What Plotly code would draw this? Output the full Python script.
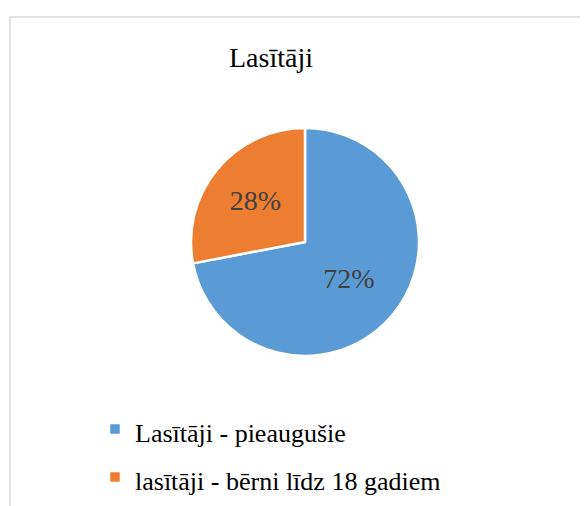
import plotly.graph_objects as go

W, H = 588, 506
OFF = 8  # page body margin offset

labels = ["Lasītāji - pieaugušie", "lasītāji - bērni līdz 18 gadiem"]
values = [72, 28]
colors = ["#5B9BD5", "#ED7D31"]
title_text = "Lasītāji"

SERIF = "Liberation Serif"
LEGEND_TEXT_SIZE = 26
LEGEND_ROW_SIZE = 34.6  # controls row spacing of legend entries

def px(x):
    return (x - OFF) / W

def py(y):
    return 1 - (y - OFF) / H

# pie geometry in screen pixels
cx, cy, r = 305, 242, 114

legend_labels = [f"<span style='font-size:{LEGEND_TEXT_SIZE}px'>{l}</span>" for l in labels]

fig = go.Figure(go.Pie(
    labels=legend_labels,
    values=values,
    sort=False,
    direction="clockwise",
    rotation=0,
    marker=dict(colors=colors, line=dict(color="white", width=2.5)),
    texttemplate="%{percent:.0%}",
    textposition="inside",
    insidetextorientation="horizontal",
    textfont=dict(family=SERIF, size=28, color="#404040"),
    domain=dict(x=[px(cx - r), px(cx + r)], y=[py(cy + r), py(cy - r)]),
    hoverinfo="label+percent",
))

fig.update_layout(
    width=W, height=H,
    margin=dict(l=0, r=0, t=0, b=0),
    paper_bgcolor="white",
    plot_bgcolor="white",
    font=dict(family=SERIF),
    showlegend=True,
    legend=dict(
        x=px(95), xanchor="left",
        y=py(453), yanchor="middle",
        font=dict(family=SERIF, size=LEGEND_ROW_SIZE, color="#000000"),
        bgcolor="rgba(0,0,0,0)",
        traceorder="normal",
    ),
    annotations=[dict(
        text=title_text, xref="paper", yref="paper",
        x=px(271), y=py(57), xanchor="center", yanchor="middle",
        showarrow=False, font=dict(family=SERIF, size=28, color="#000000"),
    )],
    shapes=[dict(
        type="rect", xref="paper", yref="paper",
        x0=px(10), x1=1.2, y0=-0.2, y1=py(17),
        line=dict(color="#D9D9D9", width=1.5), fillcolor="rgba(0,0,0,0)",
        layer="below",
    )],
)

fig.write_html("out.html")
